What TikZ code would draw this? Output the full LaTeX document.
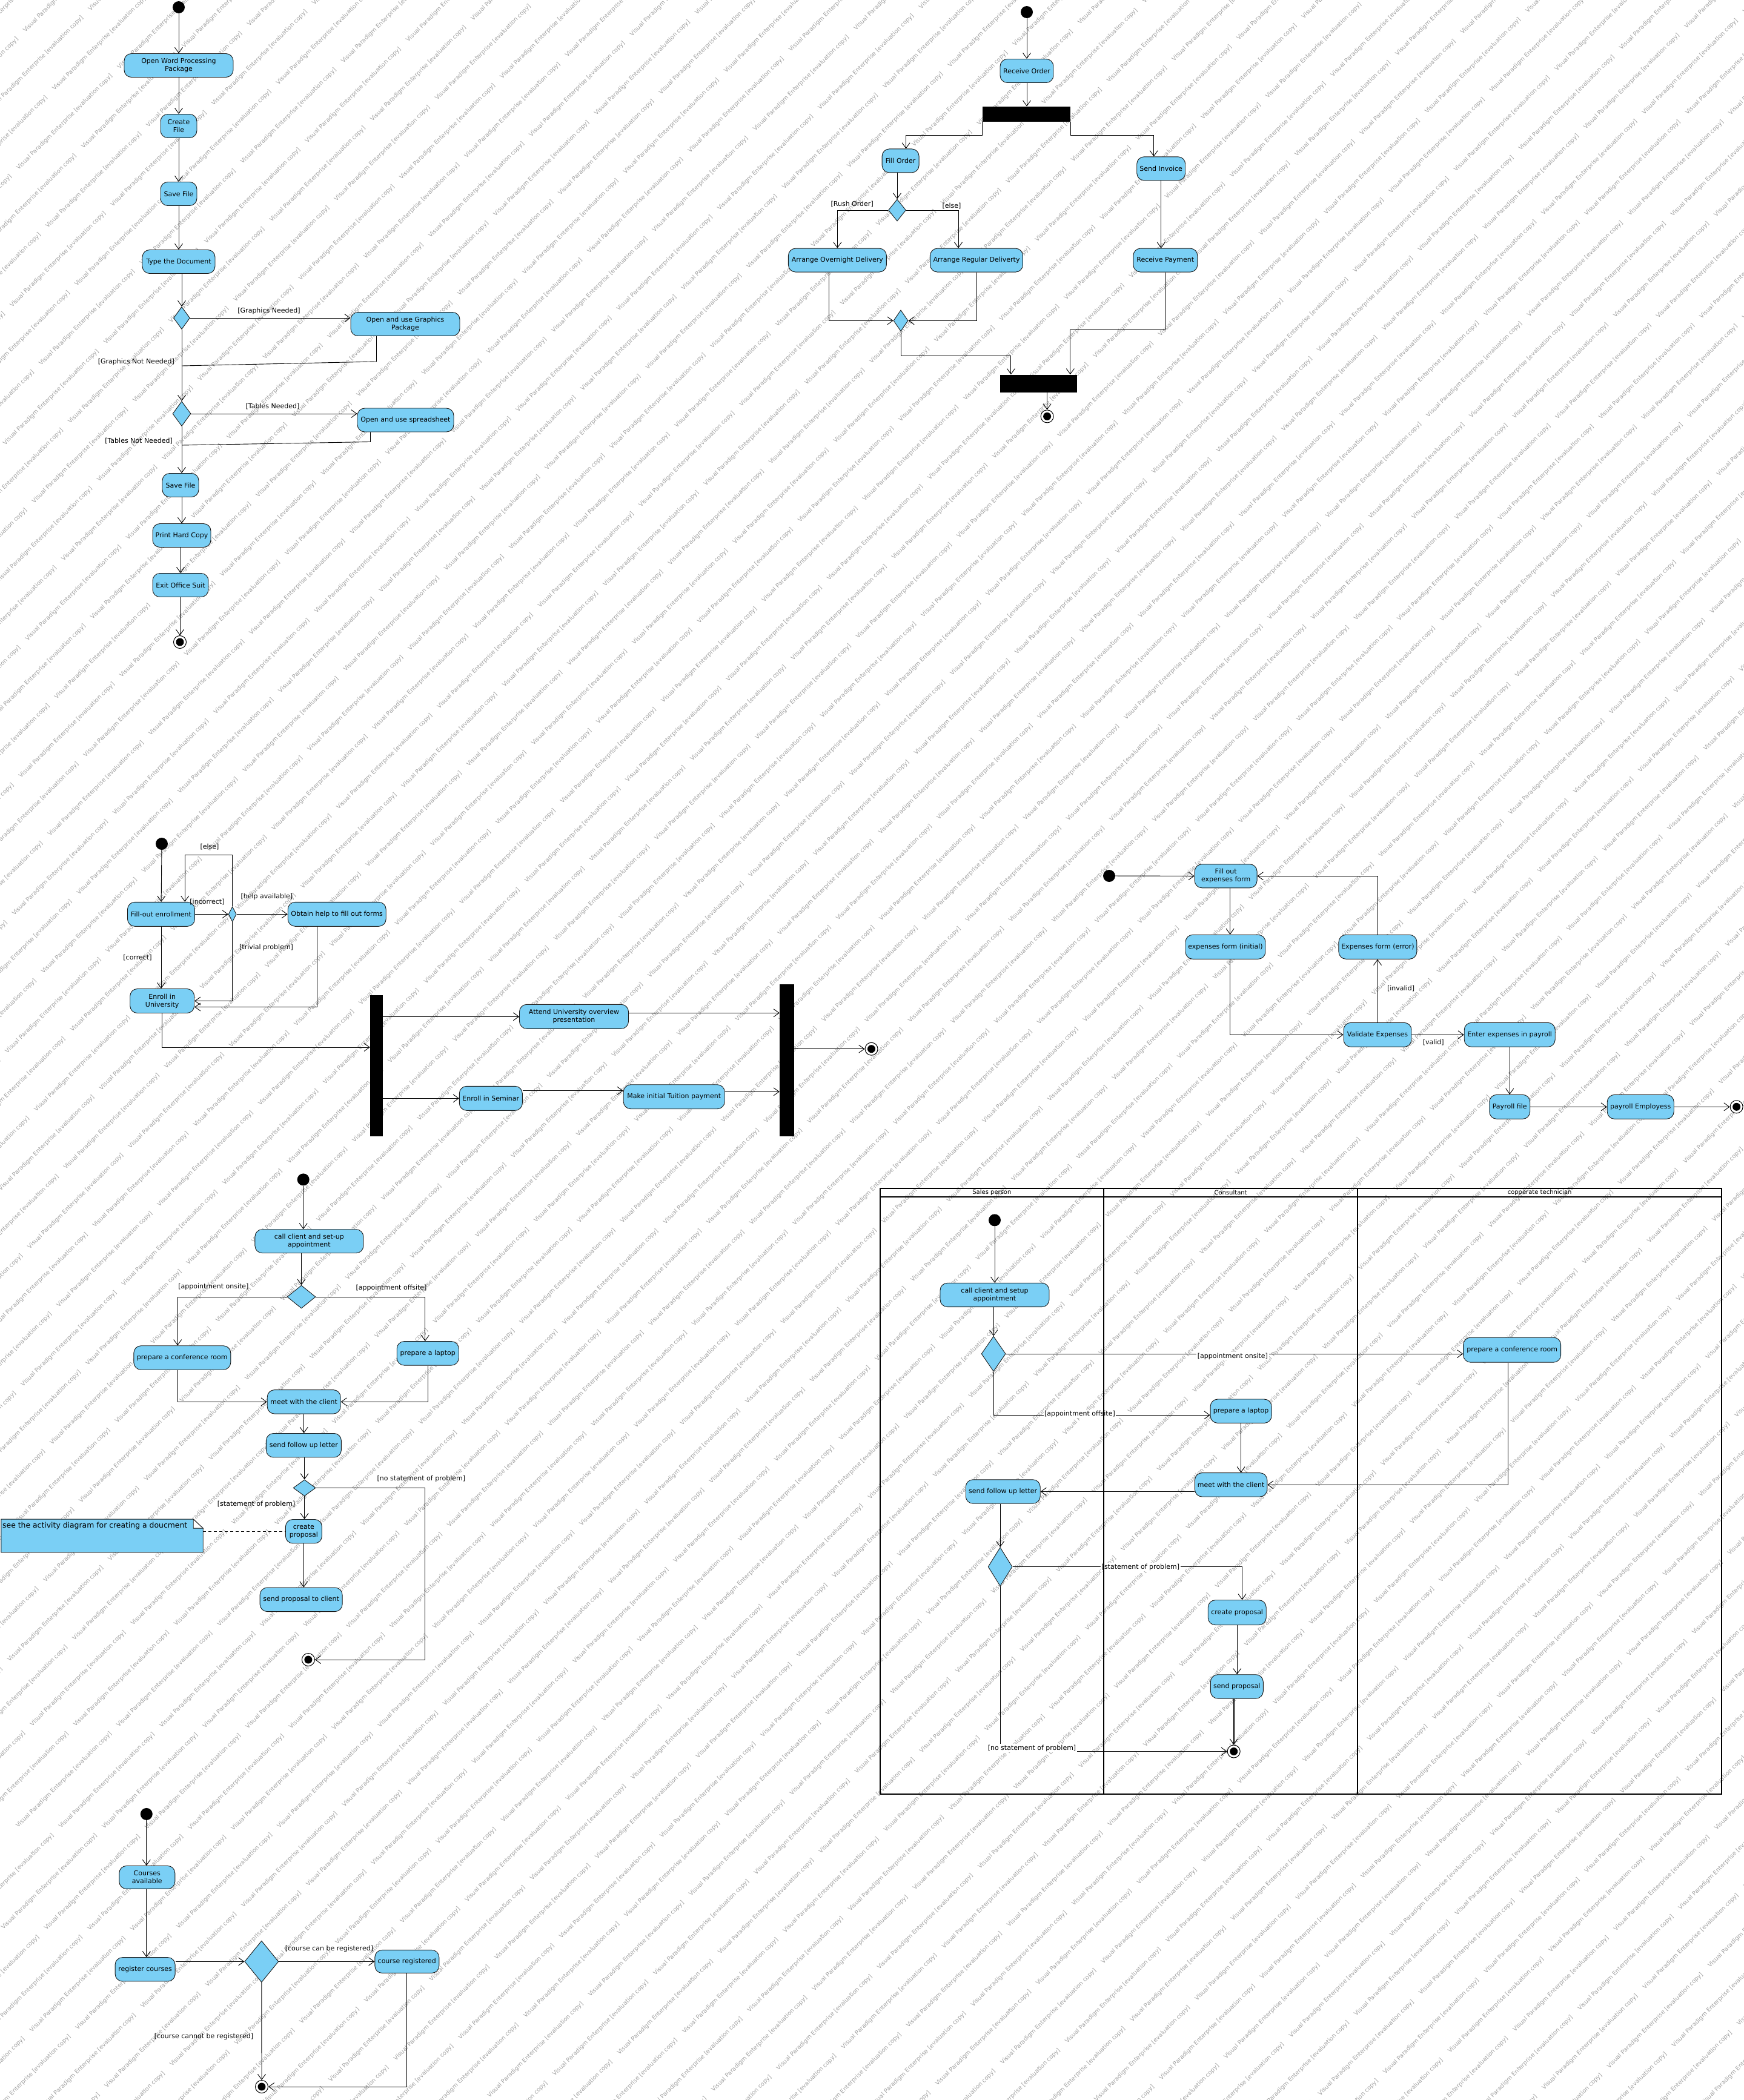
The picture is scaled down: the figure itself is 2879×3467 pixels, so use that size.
\documentclass[tikz,border=0pt]{standalone}
\usepackage{fontspec}
\setmainfont{DejaVu Sans}
\usetikzlibrary{arrows.meta,shapes.geometric}
\definecolor{vpblue}{RGB}{122,207,245}
\definecolor{wmgray}{RGB}{162,162,162}
\newcommand\fs{\fontsize{11}{13}\selectfont}
\newcommand\wmone{Visual Paradigm Enterprise [evaluation copy]\hspace{1.7em}}
\newcommand\wmall{\wmone\wmone\wmone\wmone\wmone\wmone\wmone\wmone\wmone\wmone\wmone\wmone\wmone\wmone\wmone\wmone\wmone\wmone\wmone}
\begin{document}
\begin{tikzpicture}[x=1pt,y=-1pt,
  act/.style={draw=black!90, fill=vpblue, line width=0.9pt, rounded corners=12pt, inner sep=1pt, align=center, font=\fs},
  sz/.style 2 args={minimum width=#1pt, minimum height=#2pt},
  dia/.style 2 args={diamond, draw=black!90, fill=vpblue, line width=0.9pt, inner sep=0pt, minimum width=#1pt, minimum height=#2pt},
  bar/.style 2 args={rectangle, fill=black, inner sep=0pt, minimum width=#1pt, minimum height=#2pt},
  init/.style={circle, fill=black, inner sep=0pt, minimum size=20pt},
  fin/.style={circle, draw=black, fill=white, line width=1pt, inner sep=0pt, minimum size=21pt,
     path picture={\fill[black] (path picture bounding box.center) circle (6.5pt);}},
  lbl/.style={font=\fs, inner sep=1pt},
  wl/.style={font=\fs, inner sep=1.5pt, fill=white},
  arr/.style={draw, line width=0.9pt, -{Straight Barb[length=9pt,width=13pt,line width=0.9pt]}},
  ln/.style={draw, line width=0.9pt},
  wm/.style={font=\fontsize{9.7}{11}\selectfont, text=wmgray, inner sep=0pt, anchor=center}]
\useasboundingbox (0,0) rectangle (2879,3467);
\fill[white] (0,0) rectangle (2879,3467);
% watermark
\begin{scope}
\clip (0,0) rectangle (2879,3467);
\foreach \k in {0,...,88} {
  \pgfmathsetmacro\c{20+72*\k}
  \pgfmathsetmacro\xa{max(0,\c-3467)}
  \pgfmathsetmacro\xb{min(2879,\c)}
  \pgfmathsetmacro\s{mod(\k*101,236)}
  \pgfmathsetmacro\xm{(\xa+\xb)/2+\s*0.7071}
  \pgfmathsetmacro\ym{\c-(\xa+\xb)/2-\s*0.7071}
  \node[wm, rotate=45] at (\xm,\ym) {\wmall};
}
\end{scope}

% ===== Diagram A: word processing =====
\node[init] (a0) at (295,12) {};
\node[act, sz={180}{39}] (a1) at (295,108) {Open Word Processing\\Package};
\node[act, sz={60}{39}] (a2) at (295,208) {Create\\File};
\node[act, sz={60}{39}] (a3) at (295,320) {Save File};
\node[act, sz={120}{39}] (a4) at (295,432) {Type the Document};
\node[dia={27}{37}] (ad1) at (300,525) {};
\node[act, sz={180}{39}] (a5) at (669,535) {Open and use Graphics\\Package};
\node[dia={30}{41}] (ad2) at (300,683) {};
\node[act, sz={159}{39}] (a6) at (669.5,693.5) {Open and use spreadsheet};
\node[act, sz={60}{39}] (a7) at (298,801) {Save File};
\node[act, sz={96}{39}] (a8) at (300,884) {Print Hard Copy};
\node[act, sz={92}{39}] (a9) at (298,966) {Exit Office Suit};
\node[fin] (af) at (297,1060) {};
\coordinate (am1) at (300,604);
\coordinate (am2) at (300,735);
\draw[arr] (a0) -- (a1);
\draw[arr] (a1) -- (a2);
\draw[arr] (a2) -- (a3);
\draw[arr] (a3) -- (a4);
\draw[arr] (a4.south -| ad1.north) -- (ad1.north);
\draw[arr] (ad1.east) -- (ad1.east -| a5.west);
\draw[arr] (ad1.south) -- (ad2.north);
\draw[ln] ([xshift=-47.5pt]a5.south) -- ++(0,42) -- (am1);
\draw[arr] (ad2.east) -- (ad2.east -| a6.west);
\draw[ln] ([xshift=-58pt]a6.south) -- ++(0,16) -- (am2);
\draw[arr] (ad2.south) -- (ad2.south |- a7.north);
\draw[arr] (a7.south -| a8.north) -- (a8.north);
\draw[arr] (a8.south -| a9.north) -- (a9.north);
\draw[arr] (a9.south -| af.north) -- (af.north);
\node[lbl] at (444,513) {[Graphics Needed]};
\node[lbl, anchor=east] at (289,597) {[Graphics Not Needed]};
\node[lbl] at (450,671) {[Tables Needed]};
\node[lbl, anchor=east] at (286,728) {[Tables Not Needed]};

% ===== Diagram B: order =====
\node[init] (b0) at (1695,20) {};
\node[act, sz={88}{39}] (b1) at (1695,117) {Receive Order};
\node[bar={145}{25}] (bf1) at (1694.5,188.3) {};
\node[act, sz={61}{39}] (b2) at (1486.6,265.4) {Fill Order};
\node[act, sz={80}{39}] (b3) at (1916.7,278.3) {Send Invoice};
\node[dia={29}{36}] (bd1) at (1481,347) {};
\node[act, sz={162}{39}] (b4) at (1382.4,429.6) {Arrange Overnight Delivery};
\node[act, sz={153}{39}] (b5) at (1612,429.6) {Arrange Regular Deliverty};
\node[act, sz={106}{39}] (b6) at (1923.8,429.6) {Receive Payment};
\node[dia={24}{35}] (bd2) at (1487,529.4) {};
\node[bar={127}{29}] (bj1) at (1714.2,633) {};
\node[fin] (bf) at (1728.6,687.4) {};
\draw[arr] (b0) -- (b1);
\draw[arr] (b1.south) -- (b1.south |- bf1.north);
\draw[arr] (bf1.south west) -- ++(0,22) -| ([xshift=9pt]b2.north);
\draw[arr] (bf1.south east) -- ++(0,22) -| ([xshift=-12pt]b3.north);
\draw[arr] (b2.south -| bd1.north) -- (bd1.north);
\draw[arr] (bd1.west) -| (b4.north);
\draw[arr] (bd1.east) -| ([xshift=-30pt]b5.north);
\draw[arr] (b3.south) -- (b3.south |- b6.north);
\draw[arr] ([xshift=-14pt]b4.south) |- (bd2.west);
\draw[arr] (b5.south) |- (bd2.east);
\draw[arr] (bd2.south) -- ++(0,40) -| ([xshift=-45.3pt]bj1.north);
\draw[arr] (b6.south) -- ++(0,95) -| ([xshift=52.6pt]bj1.north);
\draw[arr] (bj1.south -| bf.north) -- (bf.north);
\node[lbl] at (1406.7,337) {[Rush Order]};
\node[lbl] at (1571,340) {[else]};

% ===== Diagram C: enrollment =====
\node[init] (c0) at (267,1393) {};
\node[act, sz={111}{40}] (c1) at (266,1509.3) {Fill-out enrollment};
\node[dia={13}{25}] (cd) at (383.7,1509.3) {};
\node[act, sz={162}{40}] (c2) at (556.2,1509.3) {Obtain help to fill out forms};
\node[act, sz={106}{40}] (c3) at (267.7,1652.5) {Enroll in\\University};
\node[bar={21}{233}] (cb1) at (621.5,1759) {};
\node[act, sz={180}{40}] (c4) at (947.5,1678.3) {Attend University overview\\presentation};
\node[act, sz={104}{40}] (c5) at (810.3,1813.3) {Enroll in Seminar};
\node[act, sz={167}{40}] (c6) at (1112.7,1810.7) {Make initial Tuition payment};
\node[bar={24}{251}] (cb2) at (1299,1750.4) {};
\node[fin] (cf) at (1438.5,1731.7) {};
\draw[arr] (c0) -- (c1);
\draw[arr] (c1.east) -- (cd.west);
\draw[arr] (cd.east) -- (c2.west);
\draw[arr] (cd.north) -- ++(0,-84.5) -| ([xshift=39.2pt]c1.north);
\draw[arr] (c1.south) -- (c1.south |- c3.north);
\draw[arr] (cd.south) |- (c3.east);
\draw[arr] ([xshift=-33pt]c2.south) |- ([yshift=-10pt]c3.east);
\draw[arr] (c3.south) |- ([yshift=30pt]cb1.west);
\draw[arr] (cb1.east |- c4.west) -- (c4.west);
\coordinate (c4o) at ([yshift=6pt]c4.east);
\draw[arr] (c4o) -- (c4o -| cb2.west);
\draw[arr] (cb1.east |- c5.west) -- (c5.west);
\coordinate (c5o) at ([yshift=12.6pt]c5.east);
\draw[arr] (c5o) -- (c5o -| c6.west);
\coordinate (c6o) at ([yshift=8.4pt]c6.east);
\draw[arr] (c6o) -- (c6o -| cb2.west);
\draw[arr] (cb2.east |- cf.west) -- (cf.west);
\node[lbl] at (346,1398) {[else]};
\node[lbl] at (342,1489) {[incorrect]};
\node[lbl] at (440.4,1480) {[help available]};
\node[lbl] at (439.6,1564) {[trivial problem]};
\node[lbl] at (227,1581) {[correct]};

% ===== Diagram D: expenses =====
\node[init] (d0) at (1831,1446) {};
\node[act, sz={103}{39}] (d1) at (2023.6,1446.3) {Fill out\\expenses form};
\node[act, sz={132}{40}] (d2) at (2023,1563.3) {expenses form (initial)};
\node[act, sz={129}{40}] (d3) at (2274.4,1563.3) {Expenses form (error)};
\node[act, sz={112}{40}] (d4) at (2274,1708.3) {Validate Expenses};
\node[act, sz={150}{40}] (d5) at (2492.2,1708.3) {Enter expenses in payroll};
\node[act, sz={67}{40}] (d6) at (2492.2,1827.3) {Payroll file};
\node[act, sz={110}{40}] (d7) at (2708.2,1827.3) {payroll Employess};
\node[fin] (df) at (2866.6,1827.3) {};
\draw[arr] (d0) -- (d1.west);
\coordinate (d1s) at ([xshift=7pt]d1.south);
\draw[arr] (d1s) -- (d1s |- d2.north);
\coordinate (d2s) at ([xshift=7.5pt]d2.south);
\draw[arr] (d2s) |- (d4.west);
\draw[arr] (d4.north) -- (d4.north |- d3.south);
\draw[arr] (d3.north) |- (d1.east);
\draw[arr] (d4.east) -- (d5.west);
\draw[arr] (d5.south) -- (d6.north);
\draw[arr] (d6.east) -- (d7.west);
\draw[arr] (d7.east) -- (df.west);
\node[lbl] at (2312.6,1632.3) {[invalid]};
\node[lbl] at (2366.2,1720.7) {[valid]};

% ===== Diagram E: sales (simple) =====
\node[init] (e0) at (500.7,1947.4) {};
\node[act, sz={179}{39}] (e1) at (510.4,2049.2) {call client and set-up\\appointment};
\node[dia={47}{38}] (ed1) at (497.5,2141) {};
\node[act, sz={160}{39.5}] (e2) at (300.8,2241.5) {prepare a conference room};
\node[act, sz={102}{39.5}] (e3) at (706.2,2234.3) {prepare a laptop};
\node[act, sz={121}{39.5}] (e4) at (501.7,2314.3) {meet with the client};
\node[act, sz={124}{39.5}] (e5) at (501.4,2386.2) {send follow up letter};
\node[dia={37}{27}] (ed2) at (502.6,2456.4) {};
\node[act, sz={60}{39.5}] (e6) at (501.4,2528.2) {create\\proposal};
\node[act, sz={136}{39.5}] (e7) at (497.1,2640.8) {send proposal to client};
\node[fin] (ef) at (508.9,2740) {};
\coordinate (eR) at (701.8,2456.4);
\node[rectangle, inner sep=0pt, sz={333}{54.4}] (en) at (168.5,2535.5) {};
\filldraw[fill=vpblue, draw=black!90, line width=0.9pt] (en.south west) -- (en.north west) -- ([xshift=-16pt]en.north east) -- ([yshift=-15pt]en.north east) -- (en.south east) -- cycle;
\filldraw[fill=white, draw=black!90, line width=0.9pt] ([xshift=-16pt]en.north east) -- ([xshift=-16pt,yshift=-15pt]en.north east) -- ([yshift=-15pt]en.north east) -- cycle;
\node[font=\fontsize{12.4}{14}\selectfont, inner sep=0pt, anchor=base west] (ent) at (4,2522) {see the activity diagram for creating a doucment};
\draw[arr] (e0) -- (e0 |- e1.north);
\draw[arr] (e1.south -| ed1.north) -- (ed1.north);
\draw[arr] (ed1.west) -| ([xshift=-7.6pt]e2.north);
\draw[arr] (ed1.east) -| ([xshift=-4.4pt]e3.north);
\draw[arr] ([xshift=-7.6pt]e2.south) |- (e4.west);
\draw[arr] (e3.south) |- (e4.east);
\draw[arr] (e4.south) -- (e4.south |- e5.north);
\draw[arr] (e5.south -| ed2.north) -- (ed2.north);
\draw[arr] (ed2.south) -- (ed2.south |- e6.north);
\draw[arr] (e6.south) -- (e6.south |- e7.north);
\draw[arr] (ed2.east) -- (eR) |- (ef.east);
\draw[ln, dash pattern=on 5pt off 4pt] (e6.west -| en.east) -- (e6.west);
\node[lbl] at (352.4,2124) {[appointment onsite]};
\node[lbl] at (646.1,2126.2) {[appointment offsite]};
\node[lbl] at (423.1,2483.9) {[statement of problem]};
\node[lbl, anchor=west] at (621.4,2441.6) {[no statement of problem]};

% ===== Diagram F: swimlanes =====
\node[init] (f0) at (1642,2014.4) {};
\node[act, sz={180}{39.4}] (f1) at (1642,2137.9) {call client and setup\\appointment};
\node[dia={40}{58}] (fd1) at (1640.1,2235.1) {};
\node[act, sz={161}{41}] (f2) at (2496.1,2228.6) {prepare a conference room};
\node[act, sz={101}{39.4}] (f3) at (2048.6,2329.7) {prepare a laptop};
\node[act, sz={119.4}{39.4}] (f4) at (2032.1,2451.3) {meet with the client};
\node[act, sz={123}{39.4}] (f5) at (1655.7,2462.5) {send follow up letter};
\node[dia={40}{64}] (fd2) at (1651.1,2586.6) {};
\node[act, sz={96}{41}] (f6) at (2042.2,2662.2) {create proposal};
\node[act, sz={87}{39.4}] (f7) at (2041.8,2784.4) {send proposal};
\node[fin] (ff) at (2036.7,2891.5) {};
\draw[arr] (f0) -- (f0 |- f1.north);
\draw[arr] (f1.south -| fd1.north) -- (fd1.north);
\draw[arr] (fd1.east) -- (fd1.east -| f2.west);
\draw[arr] (fd1.south) |- ([yshift=-6.6pt]f3.west);
\draw[arr] (f3.south) -- (f3.south |- f4.north);
\draw[arr] ([xshift=-6.8pt]f2.south) |- (f4.east);
\coordinate (f4o) at ([yshift=-11.2pt]f4.west);
\draw[arr] (f4o) -- (f4o -| f5.east);
\draw[arr] (f5.south -| fd2.north) -- (fd2.north);
\draw[arr] (fd2.east) -| ([xshift=8.3pt]f6.north);
\draw[arr] (f6.south) -- (f6.south |- f7.north);
\draw[arr, line width=1.6pt] (f7.south -| ff.north) -- (ff.north);
\draw[arr] (fd2.south) |- (ff.west);
\node[wl] at (2034.9,2239) {[appointment onsite]};
\node[wl] at (1782.4,2334.3) {[appointment offsite]};
\node[wl, anchor=west] at (1817,2587) {[statement of problem]};
\node[wl] at (1703.5,2886.2) {[no statement of problem]};
% pool and lanes
\draw[line width=2pt] (1452.9,1961.8) rectangle (2841.8,2961.8);
\draw[line width=2pt] (1452.9,1976.3) -- (2841.8,1976.3);
\draw[line width=2pt] (1821.9,1961.8) -- (1821.9,2961.8);
\draw[line width=2pt] (2241.4,1961.8) -- (2241.4,2961.8);
\node[font=\fontsize{10}{12}\selectfont, inner sep=0pt] (lane1) at (1637.4,1969) {Sales person};
\node[font=\fontsize{10}{12}\selectfont, inner sep=0pt] (lane2) at (2031.6,1969) {Consultant};
\node[font=\fontsize{10}{12}\selectfont, inner sep=0pt] (lane3) at (2541.6,1969) {copperate technician};

% ===== Diagram G: courses =====
\node[init] (g0) at (241.8,2994.9) {};
\node[act, sz={92}{38}] (g1) at (242.8,3099.4) {Courses\\available};
\node[act, sz={99}{39.4}] (g2) at (239.6,3251.3) {register courses};
\node[dia={56}{68.5}] (gd) at (431.8,3238.4) {};
\node[act, sz={106}{38}] (g3) at (671.8,3238.4) {course registered};
\node[fin] (gf) at (432,3445) {};
\draw[arr] (g0) -- (g0 |- g1.north);
\draw[arr] (g1.south -| g0) -- (g0 |- g2.north);
\draw[arr] (g2.east |- gd.west) -- (gd.west);
\draw[arr] (gd.east) -- (g3.west);
\draw[arr] (gd.south) -- (gf.north);
\draw[arr] (g3.south) |- (gf.east);
\node[lbl] at (543.4,3217.7) {[course can be registered]};
\node[lbl] at (336.4,3362.5) {[course cannot be registered]};
\end{tikzpicture}
\end{document}
